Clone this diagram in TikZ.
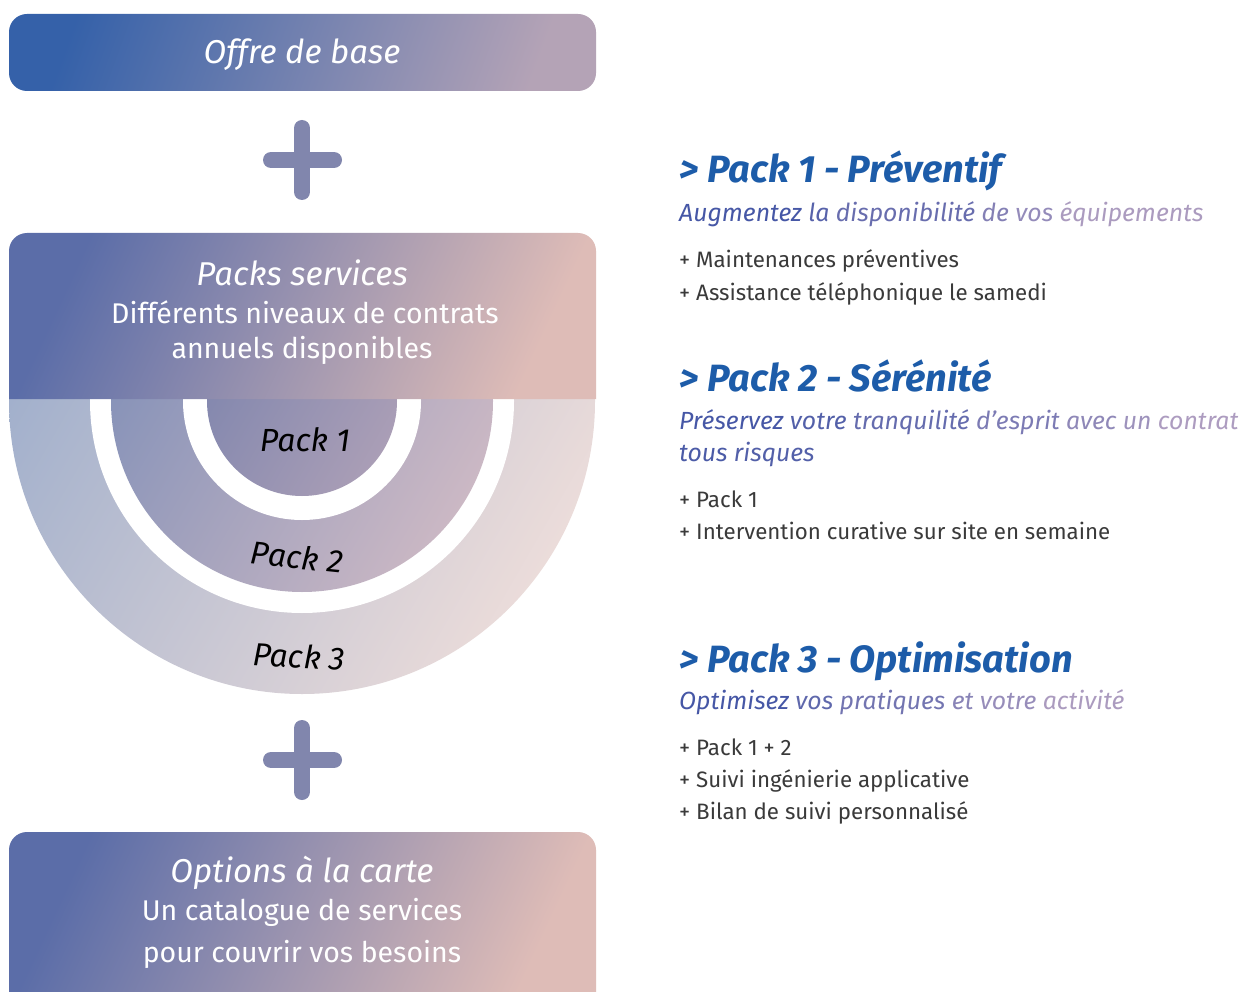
\documentclass[tikz,border=0pt]{standalone}
\usepackage{fontspec}
\setmainfont{Fira Sans}
\definecolor{ttl}{HTML}{1D5CA9}
\definecolor{bul}{HTML}{3A3A3A}
\definecolor{plusc}{HTML}{8186AD}
\definecolor{gA}{HTML}{3561A9}
\definecolor{gB}{HTML}{B4A3B6}
\definecolor{hA}{HTML}{5B6DA8}
\definecolor{hB}{HTML}{DEBCB7}
\definecolor{pthreeA}{HTML}{9DADCB}
\definecolor{pthreeB}{HTML}{EBDCDA}
\definecolor{ptwoA}{HTML}{8491B8}
\definecolor{ptwoB}{HTML}{CBB8C4}
\definecolor{poneA}{HTML}{8287AE}
\definecolor{poneB}{HTML}{AA9EB6}
\definecolor{subA}{HTML}{4657A6}
\definecolor{subB}{HTML}{B6A2C2}
\newcommand{\sw}[2]{{\color{subB!#1!subA}#2}}
\tikzset{
  plusline/.style={line width=16pt, line cap=round, draw=plusc},
  boxhead/.style={text=white, font=\fontsize{33}{38}\selectfont\itshape, anchor=center},
  boxbody/.style={text=white, font=\fontsize{28.5}{38}\selectfont, anchor=center},
  packlbl/.style={text=black, font=\fontsize{32}{36}\selectfont\itshape, anchor=center},
  ttlstyle/.style={text=ttl, font=\fontsize{38}{44}\selectfont\bfseries\itshape, anchor=base west, inner sep=0pt},
  substyle/.style={font=\fontsize{24.8}{32}\selectfont\itshape, anchor=base west, inner sep=0pt},
  bulstyle/.style={text=bul, font=\fontsize{22.3}{32}\selectfont, anchor=base west, inner sep=0pt},
}
\begin{document}
\begin{tikzpicture}[x=1pt,y=-1pt]
\clip (0,0) rectangle (1252,992);
\fill[white] (0,0) rectangle (1252,992);
% Box 1
\shade[left color=gA, right color=gB, shading angle=70, rounded corners=18pt] (9,14) rectangle (596,91);
\node[boxhead] (offre) at (302,55) {Offre de base};
% plus 1
\draw[plusline] (302,128) -- (302,192);
\draw[plusline] (271,160) -- (334,160);
% Half disc region
\begin{scope}
\clip (9,399) rectangle (596,700);
\shade[left color=pthreeA, right color=pthreeB, shading angle=60] (302,401) circle[radius=293pt];
\fill[white] (302,401) circle[radius=212pt];
\shade[left color=ptwoA, right color=ptwoB, shading angle=60] (302,401) circle[radius=191pt];
\fill[white] (302,401) circle[radius=119pt];
\shade[left color=poneA, right color=poneB, shading angle=60] (302,401) circle[radius=95pt];
\end{scope}
% Box 2 header
\shade[left color=hA, right color=hB, shading angle=65] (9,399) -- (9,251) arc[start angle=180, end angle=90, radius=18pt] -- (578,233) arc[start angle=90, end angle=0, radius=18pt] -- (596,399) -- cycle;
\node[boxhead] (packs) at (302,273) {Packs services};
\node[boxbody] (packsA) at (305,312) {Différents niveaux de contrats};
\node[boxbody] (packsB) at (302,350) {annuels disponibles};
\node[packlbl] (p1) at (305,440) {Pack 1};
\node[packlbl, rotate=-6] (p2) at (297,557) {Pack 2};
\node[packlbl, rotate=-3] (p3) at (299,656) {Pack 3};
% plus 2
\draw[plusline] (302,728) -- (302,792);
\draw[plusline] (271,760) -- (334,760);
% Box 3
\shade[left color=hA, right color=hB, shading angle=65] (9,1000) -- (9,850) arc[start angle=180, end angle=90, radius=18pt] -- (578,832) arc[start angle=90, end angle=0, radius=18pt] -- (596,1000) -- cycle;
\node[boxhead] (opt) at (302,873) {Options à la carte};
\node[boxbody] (optA) at (302,912) {Un catalogue de services};
\node[boxbody] (optB) at (302,954) {pour couvrir vos besoins};
% Right side
\node[ttlstyle] (t1) at (679,183) {> Pack 1 - Préventif};
\node[substyle] (s1) at (679,222) {\sw{0}{Augmentez} \sw{15}{la} \sw{30}{disponibilité} \sw{55}{de} \sw{70}{vos} \sw{90}{équipements}};
\node[bulstyle] (b11) at (679,268) {+ Maintenances préventives};
\node[bulstyle] (b12) at (679,300) {+ Assistance téléphonique le samedi};
\node[ttlstyle] (t2) at (679,391) {> Pack 2 - Sérénité};
\node[substyle] (s2) at (679,429) {\sw{0}{Préservez} \sw{12}{votre} \sw{28}{tranquilité} \sw{48}{d'esprit} \sw{65}{avec} \sw{78}{un} \sw{92}{contrat}};
\node[substyle] (s2b) at (679,461) {\sw{5}{tous} \sw{12}{risques}};
\node[bulstyle] (b21) at (679,507) {+ Pack 1};
\node[bulstyle] (b22) at (679,539) {+ Intervention curative sur site en semaine};
\node[ttlstyle] (t3) at (679,672) {> Pack 3 - Optimisation};
\node[substyle] (s3) at (679,709) {\sw{0}{Optimisez} \sw{22}{vos} \sw{40}{pratiques} \sw{60}{et} \sw{72}{votre} \sw{90}{activité}};
\node[bulstyle] (b31) at (679,755) {+ Pack 1 + 2};
\node[bulstyle] (b32) at (679,787) {+ Suivi ingénierie applicative};
\node[bulstyle] (b33) at (679,819) {+ Bilan de suivi personnalisé};
\end{tikzpicture}
\end{document}
